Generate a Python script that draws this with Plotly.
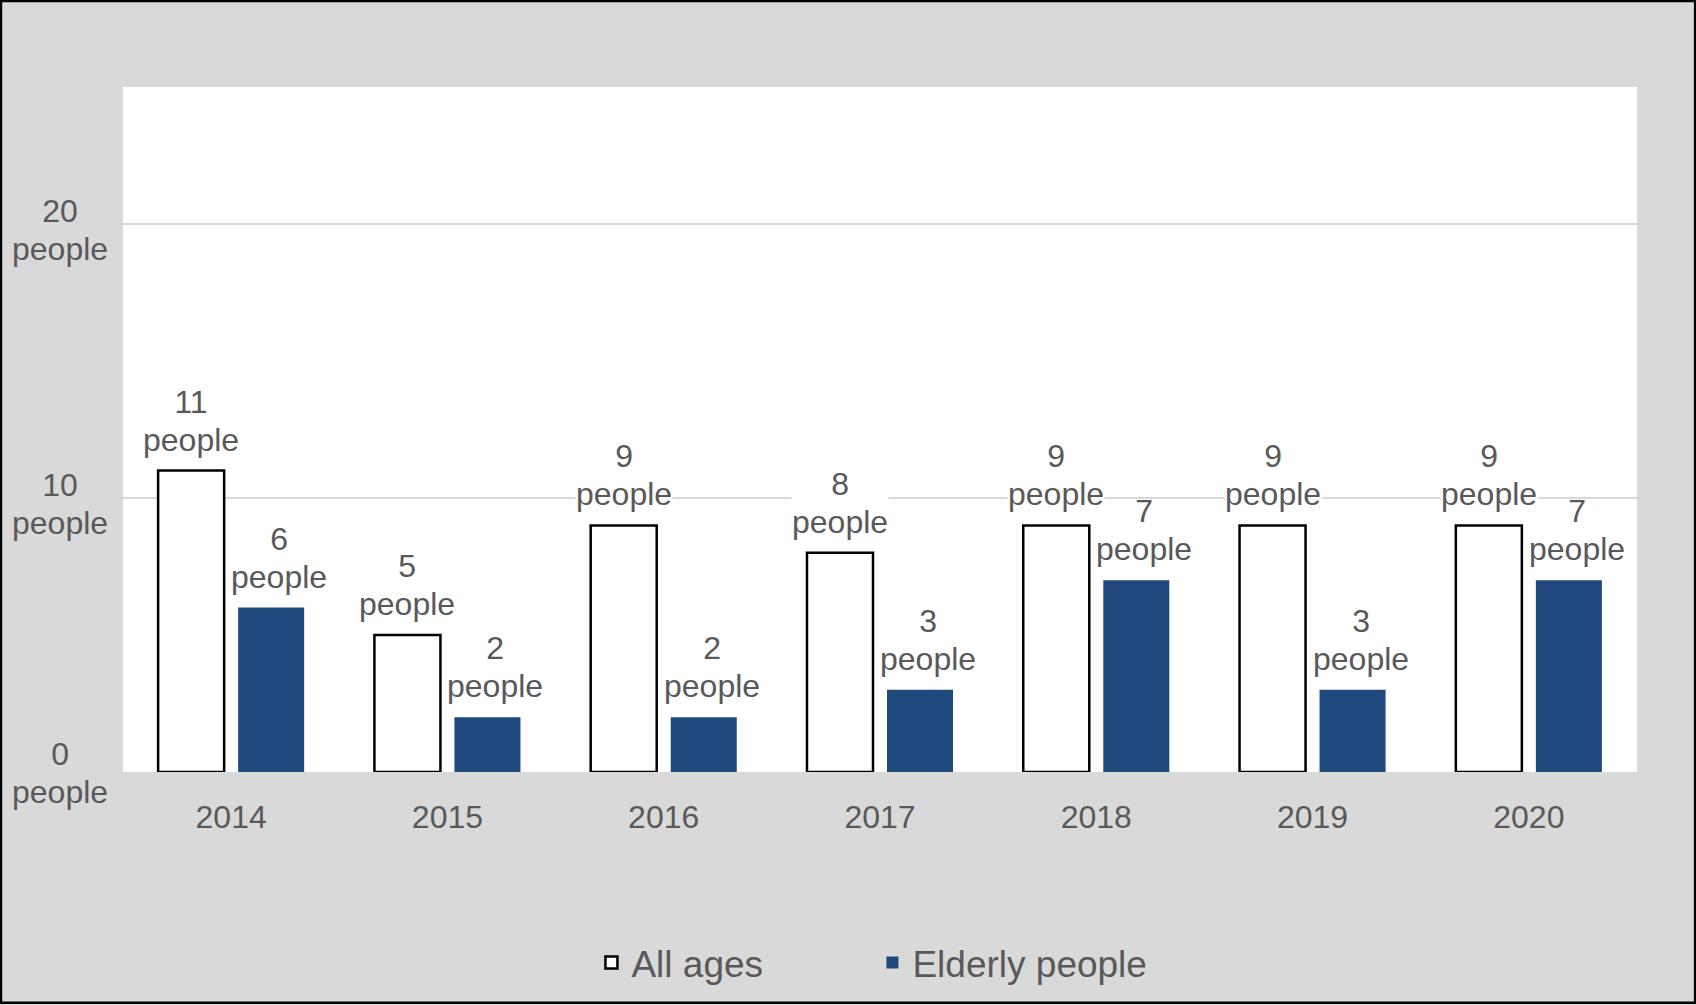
import plotly.graph_objects as go

years = ["2014", "2015", "2016", "2017", "2018", "2019", "2020"]
all_ages = [11, 5, 9, 8, 9, 9, 9]
elderly = [6, 2, 2, 3, 7, 3, 7]
y_ticks = [0, 10, 20]
unit = "people"

FONT = "Liberation Sans, Arial, sans-serif"
GREY = "#595959"
NAVY = "#1F497D"
LABEL_SIZE = 32
BASE_SIZE = 29  # controls line spacing of two-line labels


def two_line(v):
    s = f"<span style='font-size:{LABEL_SIZE}px'>"
    return f"{s}{v}</span><br>{s}{unit}</span>"


fig = go.Figure()
fig.add_trace(go.Bar(
    x=years, y=all_ages, name="All ages",
    marker=dict(color="white", line=dict(color="black", width=2.5)),
))
fig.add_trace(go.Bar(
    x=years, y=elderly, name="Elderly people",
    marker=dict(color=NAVY, line=dict(width=0)),
))

# data labels; x is the category index
for series, shift, bg in ((all_ages, -40, "white"), (elderly, 48, "rgba(0,0,0,0)")):
    for i, v in enumerate(series):
        fig.add_annotation(
            x=i, y=v, xref="x", yref="y", xshift=shift, yshift=12,
            text=two_line(v), showarrow=False,
            xanchor="center", yanchor="bottom", align="center",
            bgcolor=bg, borderpad=0,
            font=dict(family=FONT, size=BASE_SIZE, color=GREY),
        )

# y tick labels, centred two-line
for v in y_ticks:
    fig.add_annotation(
        x=-0.0416, xref="paper", y=v, yref="y", yshift=-6 if v else -1,
        text=two_line(v), showarrow=False,
        xanchor="center", yanchor="middle", align="center",
        font=dict(family=FONT, size=BASE_SIZE, color=GREY),
    )

# outer frame
fig.add_shape(type="rect", xref="paper", yref="paper",
              x0=-0.0806, x1=1.0384, y0=-0.3367, y1=1.1254,
              line=dict(color="black", width=2.5), fillcolor="rgba(0,0,0,0)",
              layer="above")

fig.update_layout(
    width=1696, height=1005,
    margin=dict(l=123, r=59, t=87, b=232),
    paper_bgcolor="#D9D9D9", plot_bgcolor="white",
    barmode="group", bargap=0.26, bargroupgap=0.175,
    font=dict(family=FONT, size=LABEL_SIZE, color=GREY),
    showlegend=True,
    legend=dict(orientation="h", x=0.495, xanchor="center", y=-0.277, yanchor="middle",
                font=dict(family=FONT, size=37, color=GREY),
                entrywidth=236, bgcolor="rgba(0,0,0,0)"),
    xaxis=dict(type="category", range=[-0.5, len(years) - 0.5],
               showgrid=False, showline=False, ticks="",
               ticklabelstandoff=23,
               tickfont=dict(family=FONT, size=LABEL_SIZE, color=GREY)),
    yaxis=dict(range=[0, 25], tickvals=y_ticks, showticklabels=False,
               showgrid=True, gridcolor="#D9D9D9", gridwidth=1.5,
               zeroline=False, showline=False),
)

fig.write_html("out.html")
